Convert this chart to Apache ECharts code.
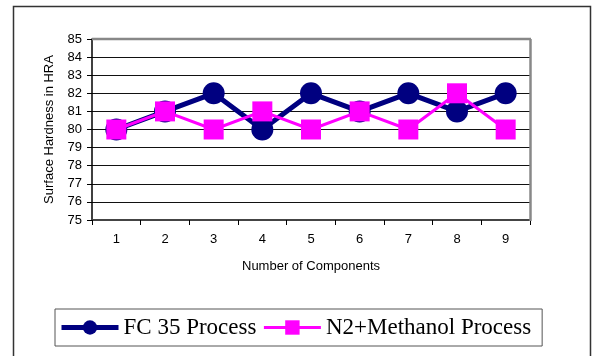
<!DOCTYPE html>
<html><head><meta charset="utf-8">
<script src="https://cdn.jsdelivr.net/npm/echarts@6/dist/echarts.min.js"></script>
<style>html,body{margin:0;padding:0;background:#fff}#c{width:592px;height:356px}</style>
</head><body><div id="c"></div>
<script>
const categories = ['1','2','3','4','5','6','7','8','9'];
const fc35 = [80,81,82,80,82,81,82,81,82];
const n2meth = [80,81,80,81,80,81,80,82,80];
const seriesNames = ['FC 35 Process','N2+Methanol Process'];

const chart = echarts.init(document.getElementById('c'));
chart.setOption({
  animation:false,
  backgroundColor:'#fff',
  graphic:[
    {type:'rect',shape:{x:13.5,y:6.5,width:577,height:360},style:{fill:null,stroke:'#333',lineWidth:1.5},z:-1},
    {type:'line',shape:{x1:92,y1:39,x2:531,y2:39},style:{stroke:'#888',lineWidth:2.5},z:10},
    {type:'line',shape:{x1:530.5,y1:39,x2:530.5,y2:221},style:{stroke:'#888',lineWidth:2.5},z:10}
  ],
  grid:{left:92,top:39,width:438,height:181,containLabel:false},
  xAxis:{type:'category',data:categories,boundaryGap:true,
    name:'Number of Components',nameLocation:'middle',nameGap:40,
    nameTextStyle:{fontFamily:'Liberation Sans',fontSize:13,color:'#000'},
    axisLine:{lineStyle:{color:'#444',width:2}},
    axisTick:{show:true,lineStyle:{color:'#000'},length:5,inside:false},
    axisLabel:{fontFamily:'Liberation Sans',fontSize:13,color:'#000',margin:13},
    splitLine:{show:false}},
  yAxis:{type:'value',min:75,max:85,interval:1,
    name:'Surface Hardness in HRA',nameLocation:'middle',nameGap:36,nameRotate:90,
    nameTextStyle:{fontFamily:'Liberation Sans',fontSize:13,color:'#000'},
    axisLine:{show:true,lineStyle:{color:'#000',width:1.5}},
    axisTick:{show:true,length:5,lineStyle:{color:'#000'}},
    axisLabel:{fontFamily:'Liberation Sans',fontSize:13,color:'#000',margin:10},
    splitLine:{show:true,lineStyle:{color:'#111',width:1}}},
  legend:{bottom:10,left:55,
    padding:[7,11,7,4],
    borderColor:'#555',borderWidth:1,
    itemWidth:57,itemHeight:18,itemGap:6,
    textStyle:{fontFamily:'Liberation Serif',fontSize:23,color:'#000',padding:[2,0,0,0]},
    data:[
      {name:seriesNames[0],lineStyle:{width:5,color:'#000080'},itemStyle:{color:'#000080'}},
      {name:seriesNames[1],lineStyle:{width:3,color:'#ff00ff'},itemStyle:{color:'#ff00ff'}}
    ]},
  series:[
    {name:seriesNames[0],type:'line',data:fc35,symbol:'circle',symbolSize:22,
      lineStyle:{color:'#000080',width:5},itemStyle:{color:'#000080'},z:2},
    {name:seriesNames[1],type:'line',data:n2meth,symbol:'rect',symbolSize:20,
      lineStyle:{color:'#ff00ff',width:3},itemStyle:{color:'#ff00ff'},z:3}
  ]
});
</script></body></html>
